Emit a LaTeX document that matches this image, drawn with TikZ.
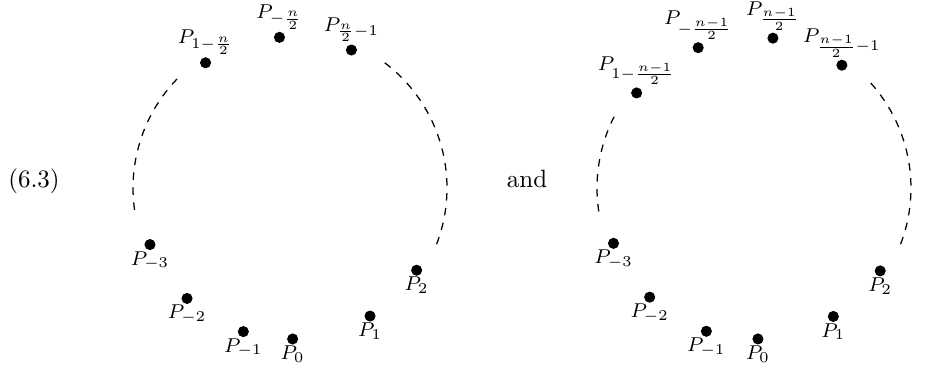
\documentclass[tikz,border=0pt]{standalone}
\usepackage{tikz}
\usepackage{tkz-euclide}
\usepackage{amsmath}

\begin{document}
\begin{tikzpicture}[plab/.style={font=\footnotesize,inner sep=1.2pt}]
    \useasboundingbox (0,0) rectangle (13.271,5.174);
    \node[anchor=base] (eqno) at (0.478,2.531) {(6.3)};
    \node[anchor=base] (conj) at (7.409,2.531) {and};
    % n even
    \tkzDefPoint(4.077,2.531){O}
    \tkzDefShiftPoint[O](-89:2.123){Q0}
    \tkzDefShiftPoint[O](-108:2.123){Qm1}
    \tkzDefShiftPoint[O](-133:2.123){Qm2}
    \tkzDefShiftPoint[O](-158:2.123){Qm3}
    \tkzDefShiftPoint[O](-58:2.123){Q1}
    \tkzDefShiftPoint[O](-33:2.123){Q2}
    \tkzDefShiftPoint[O](124:2.123){Qa}
    \tkzDefShiftPoint[O](94:2.123){Qb}
    \tkzDefShiftPoint[O](66:2.123){Qc}
    \tkzDefShiftPoint[O](136:2.207){A1}
    \tkzDefShiftPoint[O](190:2.207){A2}
    \tkzDefShiftPoint[O](-21:2.207){B1}
    \tkzDefShiftPoint[O](54:2.207){B2}
    \tkzDrawArc[dashed,line width=0.5pt](O,A1)(A2)
    \tkzDrawArc[dashed,line width=0.5pt](O,B1)(B2)
    \tkzDrawPoints[size=4pt,fill=black](Q0,Qm1,Qm2,Qm3,Q1,Q2,Qa,Qb,Qc)
    \tkzLabelPoint[below=1.3pt,plab](Q0){$P_0$}
    \tkzLabelPoint[below=1.3pt,plab](Qm1){$P_{-1}$}
    \tkzLabelPoint[below=1.3pt,plab](Qm2){$P_{-2}$}
    \tkzLabelPoint[below=1.3pt,plab](Qm3){$P_{-3}$}
    \tkzLabelPoint[below=1.3pt,plab](Q1){$P_1$}
    \tkzLabelPoint[below=1.3pt,plab](Q2){$P_2$}
    \tkzLabelPoint[above=1.8pt,plab](Qa){$P_{1-\frac{n}{2}}$}
    \tkzLabelPoint[above=1.8pt,plab](Qb){$P_{-\frac{n}{2}}$}
    \tkzLabelPoint[above=1.8pt,plab](Qc){$P_{\frac{n}{2}-1}$}
    % n odd
    \tkzDefPoint(10.600,2.531){O'}
    \tkzDefShiftPoint[O'](-88.5:2.123){R0}
    \tkzDefShiftPoint[O'](-108.4:2.123){Rm1}
    \tkzDefShiftPoint[O'](-133.7:2.123){Rm2}
    \tkzDefShiftPoint[O'](-158.5:2.123){Rm3}
    \tkzDefShiftPoint[O'](-58.3:2.123){R1}
    \tkzDefShiftPoint[O'](-33.3:2.123){R2}
    \tkzDefShiftPoint[O'](141:2.123){Ra}
    \tkzDefShiftPoint[O'](111.7:2.123){Rb}
    \tkzDefShiftPoint[O'](82.8:2.123){Rc}
    \tkzDefShiftPoint[O'](54.4:2.123){Rd}
    \tkzDefShiftPoint[O'](153:2.207){C1}
    \tkzDefShiftPoint[O'](190:2.207){C2}
    \tkzDefShiftPoint[O'](-21:2.207){D1}
    \tkzDefShiftPoint[O'](42:2.207){D2}
    \tkzDrawArc[dashed,line width=0.5pt](O',C1)(C2)
    \tkzDrawArc[dashed,line width=0.5pt](O',D1)(D2)
    \tkzDrawPoints[size=4pt,fill=black](R0,Rm1,Rm2,Rm3,R1,R2,Ra,Rb,Rc,Rd)
    \tkzLabelPoint[below=1.3pt,plab](R0){$P_0$}
    \tkzLabelPoint[below=1.3pt,plab](Rm1){$P_{-1}$}
    \tkzLabelPoint[below=1.3pt,plab](Rm2){$P_{-2}$}
    \tkzLabelPoint[below=1.3pt,plab](Rm3){$P_{-3}$}
    \tkzLabelPoint[below=1.3pt,plab](R1){$P_1$}
    \tkzLabelPoint[below=1.3pt,plab](R2){$P_2$}
    \tkzLabelPoint[above=1.8pt,plab](Ra){$P_{1-\frac{n-1}{2}}$}
    \tkzLabelPoint[above=1.8pt,plab](Rb){$P_{-\frac{n-1}{2}}$}
    \tkzLabelPoint[above=1.8pt,plab](Rc){$P_{\frac{n-1}{2}}$}
    \tkzLabelPoint[above=1.8pt,plab](Rd){$P_{\frac{n-1}{2}-1}$}
\end{tikzpicture}
\end{document}
